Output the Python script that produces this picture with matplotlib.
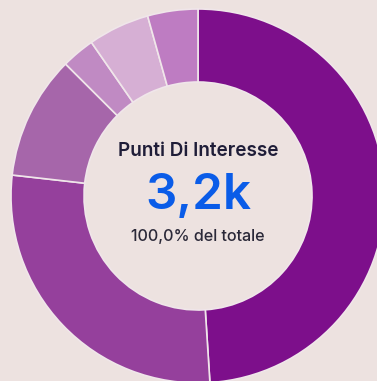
import matplotlib
matplotlib.use("Agg")
import matplotlib.pyplot as plt

categories = ["A", "B", "C", "D", "E", "F"]
values = [1568, 890, 342, 92, 170, 139]
colors = ["#7d0f8b", "#95409c", "#a666aa", "#c08ac3", "#d6afd4", "#be7cc2"]

title = "Punti Di Interesse"
big_value = "3,2k"
subtitle = "100,0% del totale"

bg = "#ede2e0"
W, H = 377, 381
fig = plt.figure(figsize=(W / 100, H / 100), dpi=100, facecolor=bg)
ax = fig.add_axes([0, 0, 1, 1])
ax.set_facecolor(bg)

cx, cy = 198, H - 196
R, r_in = 187, 114
ax.pie(values, colors=colors, radius=R, center=(cx, cy), startangle=90,
       counterclock=False,
       wedgeprops=dict(width=R - r_in, edgecolor="#f0e6ea", linewidth=1.2))
ax.set_xlim(0, W)
ax.set_ylim(0, H)
ax.set_aspect("equal")
ax.axis("off")

fam = ["Inter", "DejaVu Sans"]
ax.text(cx, H - 151, title, ha="center", va="center", fontsize=13.6,
        color="#1f1d38", family=fam, fontweight="semibold")
ax.text(cx, H - 196, big_value, ha="center", va="center", fontsize=35.5,
        color="#0a5ce8", family=fam, fontweight="semibold")
ax.text(cx, H - 236, subtitle, ha="center", va="center", fontsize=11.6,
        color="#2a2838", family=fam, fontweight="medium")

fig.savefig("out.png", dpi=100, facecolor=bg)
